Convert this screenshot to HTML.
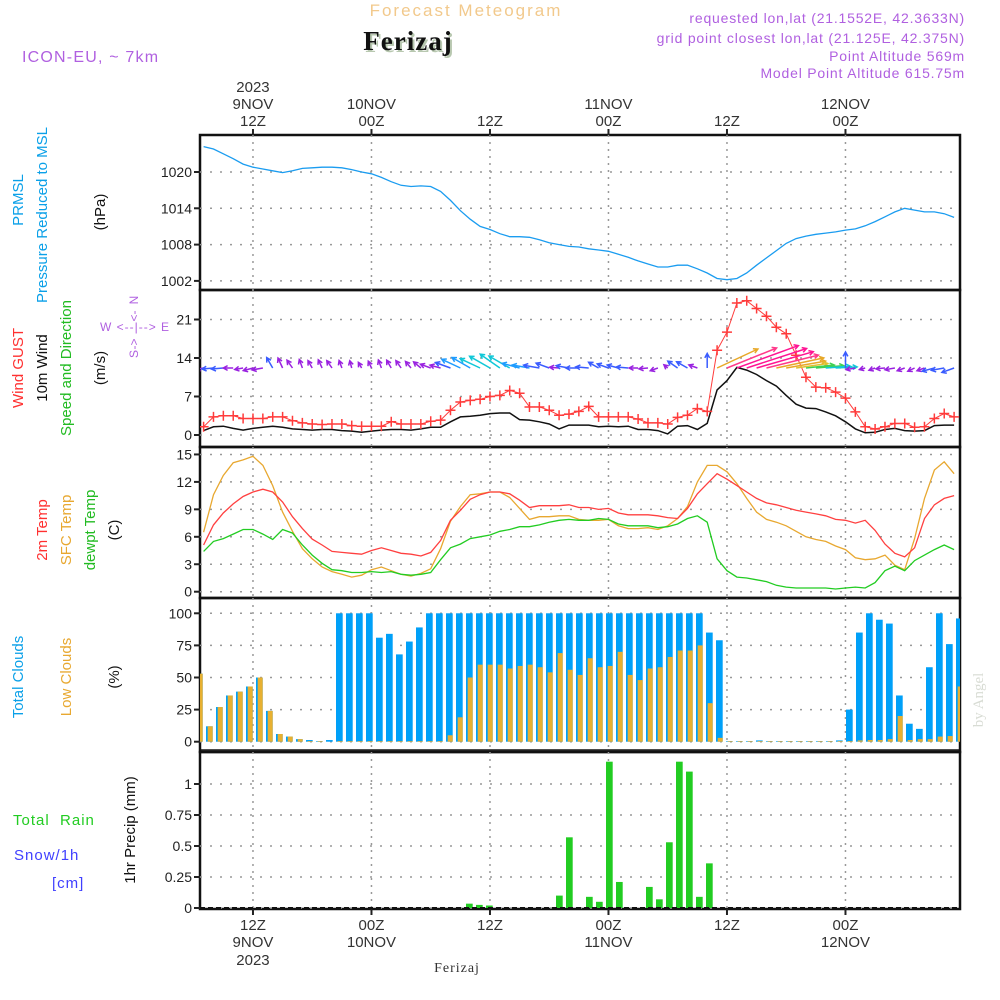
<!DOCTYPE html>
<html><head><meta charset="utf-8"><title>Meteogram Ferizaj</title>
<style>
html,body{margin:0;padding:0;background:#fff;}
svg{display:block;font-family:"Liberation Sans",sans-serif;}
</style></head>
<body>
<svg id="chart" width="1000" height="1000" viewBox="0 0 1000 1000" xmlns="http://www.w3.org/2000/svg">
<rect x="0" y="0" width="1000" height="1000" fill="#fff"/>
<text x="466" y="16" text-anchor="middle" font-size="17" fill="#f2c98c" letter-spacing="2">Forecast Meteogram</text>
<text x="408" y="50" text-anchor="middle" font-size="27" font-weight="bold" font-family="Liberation Serif, serif" fill="#111" letter-spacing="1" style="text-shadow:2px 2px 0 #b8c8b0">Ferizaj</text>
<text x="22" y="62" font-size="16" fill="#b060e0" letter-spacing="1.2">ICON-EU, ~ 7km</text>
<g font-size="14" fill="#b060e0" text-anchor="end" letter-spacing="0.8">
<text x="965" y="23">requested lon,lat (21.1552E, 42.3633N)</text>
<text x="965" y="43">grid point closest lon,lat (21.125E, 42.375N)</text>
<text x="965" y="61">Point Altitude 569m</text>
<text x="965" y="78">Model Point Altitude 615.75m</text>
</g>
<g id="frames"></g>
<g id="grid"></g>
<g id="marks"></g>
<g id="axes"></g>
<g font-size="15">
<text transform="translate(23,200) rotate(-90)" text-anchor="middle" fill="#0aa0e8">PRMSL</text>
<text transform="translate(47,215) rotate(-90)" text-anchor="middle" fill="#0aa0e8">Pressure Reduced to MSL</text>
<text transform="translate(105,212) rotate(-90)" text-anchor="middle" fill="#111">(hPa)</text>
<text transform="translate(23,368) rotate(-90)" text-anchor="middle" fill="#ff3030">Wind GUST</text>
<text transform="translate(47,368) rotate(-90)" text-anchor="middle" fill="#111">10m Wind</text>
<text transform="translate(71,368) rotate(-90)" text-anchor="middle" fill="#22bb22">Speed and Direction</text>
<text transform="translate(105,368) rotate(-90)" text-anchor="middle" fill="#111">(m/s)</text>
<text transform="translate(47,530) rotate(-90)" text-anchor="middle" fill="#ff3030">2m Temp</text>
<text transform="translate(71,530) rotate(-90)" text-anchor="middle" fill="#e8a830">SFC Temp</text>
<text transform="translate(95,530) rotate(-90)" text-anchor="middle" fill="#22bb22">dewpt Temp</text>
<text transform="translate(119,530) rotate(-90)" text-anchor="middle" fill="#111">(C)</text>
<text transform="translate(23,677) rotate(-90)" text-anchor="middle" fill="#0aa0e8">Total Clouds</text>
<text transform="translate(71,677) rotate(-90)" text-anchor="middle" fill="#e8a830">Low Clouds</text>
<text transform="translate(119,677) rotate(-90)" text-anchor="middle" fill="#111">(%)</text>
<text x="13" y="825" fill="#22cc22" letter-spacing="1">Total&#160;&#160;Rain</text>
<text x="14" y="860" fill="#4040ff" letter-spacing="1">Snow/1h</text>
<text x="52" y="888" fill="#4040ff" letter-spacing="1">[cm]</text>
<text transform="translate(135,830) rotate(-90)" text-anchor="middle" fill="#111">1hr Precip (mm)</text>
</g>
<g fill="#b060e0" font-size="12">
<text transform="translate(138,300) rotate(-90)" text-anchor="middle">N</text>
<text x="135" y="331" text-anchor="middle" letter-spacing="1">W &lt;--|--&gt; E</text>
<text transform="translate(138,354) rotate(-90)" text-anchor="middle">S</text>
<text transform="translate(138,316) rotate(-90)" text-anchor="middle">&lt;-</text>
<text transform="translate(138,344) rotate(-90)" text-anchor="middle">-&gt;</text>
</g>
<text transform="translate(983,700) rotate(-90)" text-anchor="middle" font-size="15" font-family="Liberation Serif, serif" fill="#d8dcd4">by Angel</text>
<text x="457" y="972" text-anchor="middle" font-size="14" font-family="Liberation Serif, serif" fill="#333" letter-spacing="1">Ferizaj</text>
</svg>
<script>
const hours=[7,8,9,10,11,12,13,14,15,16,17,18,19,20,21,22,23,24,25,26,27,28,29,30,31,32,33,34,35,36,37,38,39,40,41,42,43,44,45,46,47,48,49,50,51,52,53,54,55,56,57,58,59,60,61,62,63,64,65,66,67,68,69,70,71,72,73,74,75,76,77,78,79,80,81,82,83];
const pressure=[1024.2,1023.8,1023,1022.2,1021.3,1020.8,1020.5,1020.2,1019.9,1020.2,1020.6,1020.7,1020.8,1020.8,1020.7,1020.4,1020.0,1019.7,1019.1,1018.4,1017.8,1017.6,1017.7,1017.6,1016.8,1015.3,1013.6,1012.2,1011,1010.5,1009.8,1009.3,1009.3,1009.2,1008.8,1008.3,1008,1007.7,1007.6,1007.3,1007.1,1006.9,1006.4,1005.9,1005.3,1004.8,1004.3,1004.3,1004.6,1004.6,1004,1003.3,1002.4,1002.2,1002.4,1003.3,1004.6,1005.8,1007,1008.2,1009,1009.4,1009.7,1009.9,1010.1,1010.4,1010.6,1011.1,1011.8,1012.6,1013.4,1014,1013.7,1013.4,1013.4,1013.1,1012.5];
const gust=[1.5,3.3,3.5,3.5,3.0,3.0,3.0,3.3,3.3,2.6,2.2,2.0,1.9,2.0,2.0,1.7,1.6,1.6,1.6,2.4,2.0,2.0,2.0,2.5,2.7,4.5,6.0,6.3,6.5,7.0,7.2,8.1,7.6,5.1,5.1,4.5,3.6,3.8,4.3,5.2,3.3,3.3,3.3,3.3,2.9,2.2,2.2,2.0,3.2,3.6,4.8,4.3,15.4,18.7,24,24.4,23,21.6,19.6,18.4,14.5,10.5,8.7,8.6,7.8,6.7,4.2,1.5,1.1,1.5,2.1,2.1,1.4,1.5,3.0,3.9,3.3];
const windSpeed=[0.8,1.5,1.6,1.2,0.9,1.2,1.4,1.6,1.4,1.1,1.0,0.9,1.0,1.0,0.8,0.7,0.5,0.7,0.9,1.0,1.0,0.9,1.1,1.4,1.4,2.4,3.3,3.4,3.6,3.9,4.0,4.0,2.8,2.7,2.4,2.0,1.1,1.8,1.8,1.8,1.5,1.6,1.5,1.6,1.0,1.0,0.8,0.2,1.6,1.7,1.0,2.1,8.2,9.9,12.3,11.8,11.0,9.9,8.9,7.2,5.6,4.9,4.8,4.2,3.5,2.4,1.1,0.4,0.5,1.0,1.2,0.8,0.7,0.8,1.7,1.8,1.8];
const windDir=[190,185,185,180,190,195,190,120,115,125,110,120,115,125,110,105,120,115,110,120,125,130,140,160,165,160,155,150,155,150,145,150,165,170,170,160,175,170,180,175,150,160,165,175,180,185,200,140,145,150,160,90,25,22,20,18,16,14,12,10,8,6,5,4,3,90,190,195,200,185,190,200,205,200,195,190,200];
const temp2m=[5.1,7.3,8.6,9.6,10.4,10.9,11.2,10.9,9.8,8.2,6.9,5.75,5.1,4.4,4.3,4.2,4.1,4.5,4.8,4.5,4.2,4.1,3.9,4.3,5.6,7.8,8.9,10.1,10.6,10.9,10.9,10.7,10,9.2,9.4,9.4,9.4,9.5,9.2,9.2,9.0,9.1,8.6,8.4,8.4,8.4,8.3,8.1,8.0,9.1,10.7,11.8,12.9,12.3,11.6,10.9,10.2,9.7,9.5,9.2,8.9,8.7,8.5,8.3,7.9,7.8,7.5,7.8,6.7,5.2,4.2,3.8,4.8,8.0,9.5,10.2,10.5];
const tempSfc=[6.5,10.6,12.7,14.1,14.4,14.8,13.8,11.6,8.7,6.6,4.7,3.6,2.7,2.2,1.9,1.6,1.8,2.4,2.7,2.3,1.9,1.7,2.0,2.5,4.7,7.7,9.3,10.6,10.7,10.9,10.9,10.3,9.1,7.9,8.2,8.2,8.3,8.3,7.9,7.8,7.8,7.9,7.2,6.9,6.9,7.0,6.8,7.2,8.0,9.3,12.0,13.8,13.8,13.1,11.8,10.2,8.7,7.9,7.6,7.2,6.6,6.0,5.7,5.5,5.0,4.6,3.7,3.5,3.6,4.0,2.9,2.4,5.8,10.2,13.3,14.2,12.9];
const dewpt=[4.4,5.5,5.8,6.3,6.8,6.8,6.3,5.7,6.8,6.4,5.1,4.0,3.1,2.4,2.3,2.1,2.1,2.2,2.1,2.2,1.9,1.8,1.9,2.1,3.5,4.8,5.2,5.8,6.0,6.2,6.6,6.8,7.1,7.1,7.3,7.6,7.8,7.9,7.8,7.8,8.0,7.9,7.4,7.2,7.2,7.2,7.0,7.1,7.4,8.0,8.3,7.6,3.6,2.3,1.6,1.5,1.3,1.1,0.7,0.5,0.4,0.4,0.4,0.4,0.3,0.4,0.5,0.4,1.0,2.3,2.8,2.3,3.4,4.0,4.6,5.1,4.6];
const totalCloud=[53,12,27,36,39,43,50,24,6,4,2,1.3,0.5,1.3,100,100,100,100,81,84,68,78,89,100,100,100,100,100,100,100,100,100,100,100,100,100,100,100,100,100,100,100,100,100,100,100,100,100,100,100,100,85,79,0.5,0.5,0.5,1,0.5,0.5,0.5,0.5,0.5,0.5,0.5,1,25,85,100,95,92,36,14,10,58,100,76,96];
const lowCloud=[53,12,27,36,39,43,50,24,6,4,2,0.5,0.5,0,0.5,0.5,0.5,0.5,0.5,0.5,0.5,0.5,0.5,0.5,0.5,5,19,50,60,60,60,57,59,60,58,54,69,56,52,65,58,59,70,52,48,57,58,66,71,71,75,30,3,0.5,0.5,0.5,0.5,0.5,0.5,0.5,0.5,0.5,0.5,0.5,0.5,0.5,1,1.3,1.3,2,20,1.3,2,2,4,4.4,43];
const precip=[0,0,0,0,0,0,0,0,0,0,0,0,0,0,0,0,0,0,0,0,0,0,0,0,0,0,0,0.035,0.025,0.02,0,0,0,0,0,0,0.1,0.57,0,0.09,0.05,1.18,0.21,0,0,0.17,0.07,0.53,1.18,1.1,0.09,0.36,0,0,0,0,0,0,0,0,0,0,0,0,0,0,0,0,0,0,0,0,0,0,0,0,0];
const pressureTicks=[1020,1014,1008,1002];
const windTicks=[21,14,7,0];
const tempTicks=[15,12,9,6,3,0];
const cloudTicks=[100,75,50,25,0];
const precipTicks=[1,0.75,0.5,0.25,0];
const precipTickLabels=["1","0.75","0.5","0.25","0"];
const timeTickHours=[12,24,36,48,60,72];
const topLabels=[["2023","9NOV","12Z"],["","10NOV","00Z"],["","","12Z"],["","11NOV","00Z"],["","","12Z"],["","12NOV","00Z"]];
const bottomLabels=[["12Z","9NOV","2023"],["00Z","10NOV",""],["12Z","",""],["00Z","11NOV",""],["12Z","",""],["00Z","12NOV",""]];

const NS="http://www.w3.org/2000/svg";
const L=200,R=960;
const panels=[{t:135,b:290},{t:290,b:447},{t:447,b:598},{t:598,b:752},{t:752,b:909}];
function x(h){return 203.6+(h-7)*9.875;}
function xb(h){return 202.7+(h-7)*10;}
function yP(v){return 172+(1020-v)*6.05;}
function yW(v){return 435-v*5.5;}
function yT(v){return 591.7-v*9.15;}
function yC(v){return 741.7-v*1.284;}
function yR(v){return 908-v*124;}
function mk(tag,attrs,parent){const e=document.createElementNS(NS,tag);for(const k in attrs)e.setAttribute(k,attrs[k]);parent.appendChild(e);return e;}
const frames=document.getElementById('frames'),grid=document.getElementById('grid'),marks=document.getElementById('marks'),axes=document.getElementById('axes');

const defs=mk('defs',{},document.getElementById('chart'));
panels.forEach((p,i)=>{const c=mk('clipPath',{id:'clip'+i},defs);mk('rect',{x:L,y:p.t,width:R-L,height:p.b-p.t},c);});

panels.forEach((p,i)=>{timeTickHours.forEach(h=>{
  const g=mk('line',{x1:x(h),x2:x(h),y1:p.t,y2:p.b,stroke:'#999','stroke-width':1.5,'stroke-dasharray':'2,5'},grid);
  
  
});});
function hgrid(ticks,yf,labels,panelIdx){
  ticks.forEach((v,i)=>{
    const y=yf(v);
    const g=mk('line',{x1:L,x2:R,y1:y,y2:y,stroke:'#999','stroke-width':1.5,'stroke-dasharray':'2,8'},grid);
    
    
    const tk=mk('line',{x1:L-6,x2:L,y1:y,y2:y,stroke:'#222','stroke-width':2},axes);
    
    
    const t=mk('text',{x:L-8,y:y+5,'text-anchor':'end','font-size':14,fill:'#222'},axes);
    t.textContent=labels?labels[i]:String(v);
    
    
  });
}
hgrid(pressureTicks,yP,null,0);
hgrid(windTicks,yW,null,1);
hgrid(tempTicks,yT,null,2);
hgrid(cloudTicks,yC,null,3);
hgrid(precipTicks,yR,precipTickLabels,4);

panels.forEach((p,i)=>{
  const r=mk('rect',{x:L,y:p.t,width:R-L,height:p.b-p.t,fill:'none',stroke:'#111','stroke-width':2.5},frames);
  
  
});
mk('line',{x1:L,x2:R,y1:750,y2:750,stroke:'#111','stroke-width':1.5},frames);

timeTickHours.forEach((h,i)=>{
  const tt=mk('line',{x1:x(h),x2:x(h),y1:129,y2:135,stroke:'#222','stroke-width':2},axes);
  
  
  const tb=mk('line',{x1:x(h),x2:x(h),y1:909,y2:915,stroke:'#222','stroke-width':2},axes);
  
  
  [92,109,126].forEach((yy,j)=>{const s=topLabels[i][j];if(!s)return;
    const t=mk('text',{x:x(h),y:yy,'text-anchor':'middle','font-size':15,fill:'#333'},axes);t.textContent=s;
    
    });
  [930,947,965].forEach((yy,j)=>{const s=bottomLabels[i][j];if(!s)return;
    const t=mk('text',{x:x(h),y:yy,'text-anchor':'middle','font-size':15,fill:'#333'},axes);t.textContent=s;
    
    });
});

function line(vals,yf,color,w,clip,name){
  const d=vals.map((v,i)=>(i?'L':'M')+x(hours[i]).toFixed(1)+','+yf(v).toFixed(1)).join('');
  const p=mk('path',{d:d,fill:'none',stroke:color,'stroke-width':w,'clip-path':'url(#clip'+clip+')'},marks);
  
  
  return p;
}
line(pressure,yP,'#1a9cf0',1.3,0,'pressure-line');
line(windSpeed,yW,'#111',1.5,1,'wind-speed-line');
line(gust,yW,'#ff3b3b',1,1,'gust-line');
gust.forEach((v,i)=>{
  const cx=x(hours[i]),cy=yW(v);
  const m=mk('path',{d:`M${cx-5},${cy}H${cx+5}M${cx},${cy-5}V${cy+5}`,stroke:'#ff3b3b','stroke-width':1.5,'clip-path':'url(#clip1)'},marks);
  
  
});
function windColor(s){
  if(s<1.5)return '#9a22e0';
  if(s<2.5)return '#3a5cff';
  if(s<3.5)return '#1e9cff';
  if(s<4.5)return '#10c8d8';
  if(s<5.5)return '#40d050';
  if(s<7)return '#e0c030';
  if(s<9.5)return '#e8a828';
  if(s<11)return '#ff3a8a';
  return '#ff1493';
}
windSpeed.forEach((s,i)=>{
  const x0=x(hours[i]),y0=368;
  const a=windDir[i]*Math.PI/180,len=4+5*s;
  const x1=x0+Math.cos(a)*len,y1=y0-Math.sin(a)*len;
  const h1=a+Math.PI-0.5,h2=a+Math.PI+0.5,hl=5;
  const d=`M${x0.toFixed(1)},${y0}L${x1.toFixed(1)},${y1.toFixed(1)}M${(x1+Math.cos(h1)*hl).toFixed(1)},${(y1-Math.sin(h1)*hl).toFixed(1)}L${x1.toFixed(1)},${y1.toFixed(1)}L${(x1+Math.cos(h2)*hl).toFixed(1)},${(y1-Math.sin(h2)*hl).toFixed(1)}`;
  const p=mk('path',{d:d,fill:'none',stroke:windColor(s),'stroke-width':1.5,'clip-path':'url(#clip1)'},marks);
  
  
});
line(tempSfc,yT,'#e8a830',1.3,2,'sfc-temp-line');
line(temp2m,yT,'#ff4040',1.3,2,'temp-2m-line');
line(dewpt,yT,'#22cc22',1.3,2,'dewpoint-line');
totalCloud.forEach((v,i)=>{
  const r=xb(hours[i]);
  const b=mk('rect',{x:r-6.7,y:yC(v),width:6.7,height:yC(0)-yC(v),fill:'#00a0f8','clip-path':'url(#clip3)'},marks);
  
  
});
lowCloud.forEach((v,i)=>{
  const r=xb(hours[i]);
  const b=mk('rect',{x:r-5,y:yC(v),width:5,height:yC(0)-yC(v),fill:'#e8b030','clip-path':'url(#clip3)'},marks);
  
  
});
precip.forEach((v,i)=>{
  if(v<=0)return;
  const r=xb(hours[i]);
  const b=mk('rect',{x:r-6.7,y:yR(v),width:6.7,height:yR(0)-yR(v),fill:'#22cc22','clip-path':'url(#clip4)'},marks);
  
  
});
mk('line',{x1:L,x2:R,y1:908,y2:908,stroke:'#111','stroke-width':2,'stroke-dasharray':'5,3'},marks);
</script>
</body></html>
